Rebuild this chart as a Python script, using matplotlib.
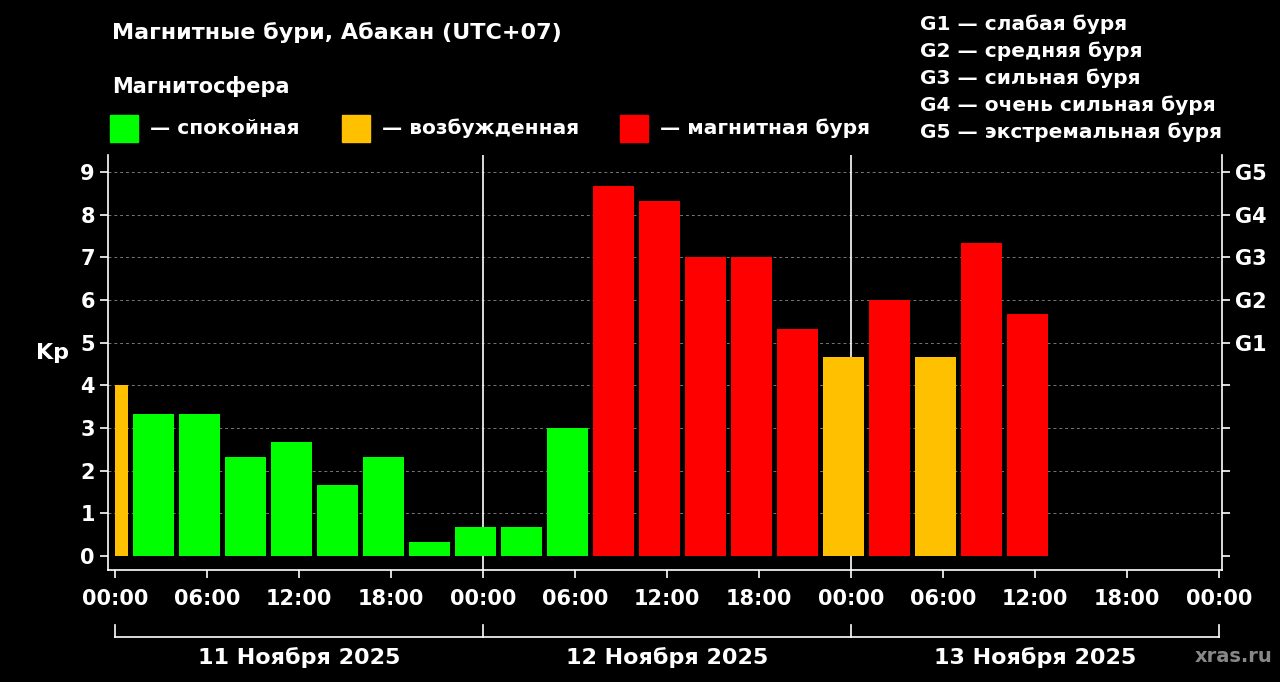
import matplotlib
matplotlib.use("Agg")
import matplotlib.pyplot as plt
from matplotlib.patches import Rectangle

# Kp data, hours from 11 Nov 00:00 (UTC+07)
bar_start = [0, 1, 4, 7, 10, 13, 16, 19, 22, 25, 28, 31, 34, 37, 40, 43, 46, 49, 52, 55, 58]
bar_len = [0.85] + [2.7] * 20
kp = [4.0, 3.33, 3.33, 2.33, 2.67, 1.67, 2.33, 0.33, 0.67, 0.67, 3.0,
      8.67, 8.33, 7.0, 7.0, 5.33, 4.67, 6.0, 4.67, 7.33, 5.67]
tick_labels = ["00:00", "06:00", "12:00", "18:00"] * 3 + ["00:00"]
days = ["11 Ноября 2025", "12 Ноября 2025", "13 Ноября 2025"]
g_labels = ["G1", "G2", "G3", "G4", "G5"]
legend_items = [("#00ff00", "— спокойная"), ("#ffc000", "— возбужденная"), ("#ff0000", "— магнитная буря")]
g_desc = ["G1 — слабая буря", "G2 — средняя буря", "G3 — сильная буря",
          "G4 — очень сильная буря", "G5 — экстремальная буря"]

def color_for(v):
    if v < 4:
        return "#00ff00"
    if v < 5:
        return "#ffc000"
    return "#ff0000"

plt.rcParams['font.family'] = ['DejaVu Sans']
plt.rcParams['font.weight'] = 'bold'
fig = plt.figure(figsize=(12.8, 6.82), dpi=100, facecolor="black")
ax = fig.add_axes([0.0844, 0.1642, 0.8703, 0.6085], facecolor="black")

# small gap before each 3h bar
starts = [s if i == 0 else s + 0.17 for i, s in enumerate(bar_start)]
ax.bar(starts, kp, width=bar_len, align="edge", color=[color_for(v) for v in kp], zorder=3)
ax.set_xlim(-0.45, 72.2)
ax.set_ylim(-0.33, 9.4)
for y in range(1, 10):
    ax.axhline(y, color="#777777", linestyle=(0, (3, 3)), linewidth=0.7, zorder=1)
for x in (24, 48):
    ax.axvline(x, color="white", linewidth=1.2, zorder=2)

ax.set_xticks(range(0, 73, 6))
ax.set_xticklabels(tick_labels)
ax.set_yticks(range(10))
ax.tick_params(colors="white", labelsize=15, length=6, width=1.2)
for lab in ax.get_xticklabels() + ax.get_yticklabels():
    lab.set_fontweight("bold")
ax.tick_params(axis="x", pad=8)
ax.spines["top"].set_visible(False)
for s in ("left", "bottom", "right"):
    ax.spines[s].set_color("white")
    ax.spines[s].set_linewidth(1.2)

ax2 = ax.twinx()
ax2.set_ylim(ax.get_ylim())
ax2.set_yticks(range(10))
ax2.set_yticklabels([""] * 5 + g_labels)
ax2.tick_params(colors="white", labelsize=15, length=6, width=1.2)
for lab in ax2.get_yticklabels():
    lab.set_fontweight("bold")
for s in ax2.spines.values():
    s.set_visible(False)

ax.set_ylabel("Kp", color="white", fontsize=16, fontweight="bold", rotation=0, labelpad=20)

# day brackets below the axis
tr = ax.get_xaxis_transform()
yb = -0.161
ax.plot([0, 72], [yb, yb], color="white", lw=1.2, transform=tr, clip_on=False)
for x in (0, 24, 48, 72):
    ax.plot([x, x], [yb, yb + 0.029], color="white", lw=1.2, transform=tr, clip_on=False)
for i, d in enumerate(days):
    ax.text(12 + 24 * i, -0.21, d, transform=tr, color="white", fontsize=16,
            fontweight="bold", ha="center", va="center")

fig.text(0.0875, 0.952, "Магнитные бури, Абакан (UTC+07)", color="white", fontsize=16,
         fontweight="bold", va="center")
fig.text(0.0875, 0.873, "Магнитосфера", color="white", fontsize=15, fontweight="bold", va="center")
for (c, t), x0 in zip(legend_items, (110, 342, 620)):
    fig.patches.append(Rectangle((x0 / 1280, 1 - 142 / 682), 28 / 1280, 27 / 682,
                                 transform=fig.transFigure, color=c))
    fig.text((x0 + 40) / 1280, 1 - 128 / 682, t, color="white", fontsize=14.5,
             fontweight="bold", va="center")
for i, t in enumerate(g_desc):
    fig.text(920 / 1280, 1 - (24 + 27 * i) / 682, t, color="white", fontsize=14.5,
             fontweight="bold", va="center")
fig.text(1195 / 1280, 1 - 657 / 682, "xras.ru", color="#888888", fontsize=14, va="center")

fig.savefig("out.png", dpi=100, facecolor="black")
